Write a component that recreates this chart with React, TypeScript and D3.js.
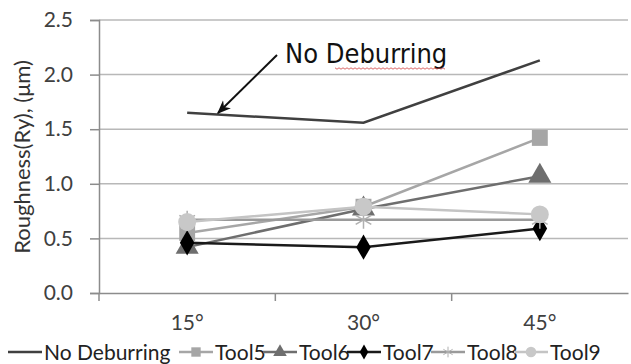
import React, { useRef, useEffect } from 'react';
import * as d3 from 'd3';

const categories = ['15°', '30°', '45°'];
const yTicks = [0, 0.5, 1.0, 1.5, 2.0, 2.5];

const noDeburring = [1.65, 1.56, 2.13];
const tool5 = [0.55, 0.79, 1.42];
const tool6 = [0.42, 0.77, 1.07];
const tool7 = [0.46, 0.42, 0.59];
const tool8 = [0.67, 0.67, 0.67];
const tool9 = [0.65, 0.79, 0.72];

const seriesNames = ['No Deburring', 'Tool5', 'Tool6', 'Tool7', 'Tool8', 'Tool9'];

const App = () => {
  const ref = useRef<SVGSVGElement>(null);

  useEffect(() => {
    const svg = d3.select(ref.current);
    svg.selectAll('*').remove();

    const width = 631;
    const height = 364;
    const margin = { top: 20, right: 3, bottom: 71, left: 99 };
    const font = 'Lato, "Open Sans", sans-serif';

    const x = d3.scaleBand<string>()
      .domain(categories)
      .range([margin.left, width - margin.right]);
    const cx = (c: string) => (x(c) as number) + x.bandwidth() / 2;

    const y = d3.scaleLinear()
      .domain([0, 2.5])
      .range([height - margin.bottom, margin.top]);

    // gridlines
    svg.append('g')
      .selectAll('line')
      .data(yTicks.slice(1))
      .join('line')
      .attr('x1', margin.left)
      .attr('x2', width - margin.right)
      .attr('y1', d => y(d))
      .attr('y2', d => y(d))
      .attr('stroke', '#b8b8b8')
      .attr('stroke-width', 1.5);

    // y axis
    const yAxis = svg.append('g')
      .attr('transform', `translate(${margin.left},0)`)
      .call(d3.axisLeft(y).tickValues(yTicks).tickFormat(d3.format('.1f')).tickSize(9).tickPadding(17));
    yAxis.select('.domain').attr('stroke', '#8c8c8c').attr('stroke-width', 1.5);
    yAxis.selectAll('.tick line').attr('stroke', '#8c8c8c').attr('stroke-width', 1.5);
    yAxis.selectAll('.tick text')
      .attr('fill', '#404040')
      .style('font-family', font)
      .style('font-size', '21px');

    // x axis
    const xAxis = svg.append('g')
      .attr('transform', `translate(0,${height - margin.bottom})`)
      .call(d3.axisBottom(x).tickSize(0).tickPadding(22));
    xAxis.select('.domain').attr('stroke', '#8c8c8c').attr('stroke-width', 1.5);
    xAxis.selectAll('.tick text')
      .attr('fill', '#404040')
      .style('font-family', font)
      .style('font-size', '21px');
    // band boundary ticks
    svg.append('g')
      .selectAll('line')
      .data(categories)
      .join('line')
      .attr('x1', d => x(d) as number)
      .attr('x2', d => x(d) as number)
      .attr('y1', height - margin.bottom)
      .attr('y2', height - margin.bottom + 8)
      .attr('stroke', '#8c8c8c')
      .attr('stroke-width', 1.5);

    // y label
    svg.append('text')
      .attr('transform', 'rotate(-90)')
      .attr('x', -157)
      .attr('y', 30)
      .attr('text-anchor', 'middle')
      .attr('fill', '#333')
      .style('font-family', font)
      .style('font-size', '22px')
      .text('Roughness(Ry), (μm)');

    const series = [
      { name: seriesNames[0], values: noDeburring, color: '#404040', marker: 'none', mcolor: '#404040', width: 2.5 },
      { name: seriesNames[1], values: tool5, color: '#a6a6a6', marker: 'square', mcolor: '#a6a6a6', width: 2.5 },
      { name: seriesNames[2], values: tool6, color: '#6e6e6e', marker: 'triangle', mcolor: '#6e6e6e', width: 2.5 },
      { name: seriesNames[3], values: tool7, color: '#1a1a1a', marker: 'diamond', mcolor: '#000000', width: 2.5 },
      { name: seriesNames[4], values: tool8, color: '#9a9a9a', marker: 'star', mcolor: '#b0b0b0', width: 2.5 },
      { name: seriesNames[5], values: tool9, color: '#c4c4c4', marker: 'circle', mcolor: '#c8c8c8', width: 2.5 },
    ];

    const symbolFor = (m: string, size: number) => {
      if (m === 'square') return d3.symbol(d3.symbolSquare, size * 1.1)();
      if (m === 'triangle') return d3.symbol(d3.symbolTriangle, size)();
      if (m === 'diamond') return d3.symbol(d3.symbolDiamond, size * 0.8)();
      if (m === 'circle') return d3.symbol(d3.symbolCircle, size * 1.1)();
      if (m === 'star') return d3.symbol(d3.symbolAsterisk, size)();
      return null;
    };

    const line = d3.line<number>()
      .x((_, i) => cx(categories[i]))
      .y(d => y(d));

    series.forEach(s => {
      svg.append('path')
        .datum(s.values)
        .attr('d', line)
        .attr('fill', 'none')
        .attr('stroke', s.color)
        .attr('stroke-width', s.width);
    });

    series.forEach(s => {
      if (s.marker === 'none') return;
      const p = symbolFor(s.marker, 230);
      svg.append('g')
        .selectAll('path')
        .data(s.values)
        .join('path')
        .attr('transform', (d, i) => `translate(${cx(categories[i])},${y(d)})`)
        .attr('d', p)
        .attr('fill', s.marker === 'star' ? 'none' : s.mcolor)
        .attr('stroke', s.mcolor)
        .attr('stroke-width', s.marker === 'star' ? 1.5 : 0);
    });

    // annotation
    svg.append('defs').append('marker')
      .attr('id', 'arrow')
      .attr('viewBox', '0 0 10 10')
      .attr('refX', 9)
      .attr('refY', 5)
      .attr('markerWidth', 7)
      .attr('markerHeight', 7)
      .attr('orient', 'auto')
      .append('path')
      .attr('d', 'M0,1 L10,5 L0,9 L3,5 Z')
      .attr('fill', '#111');
    svg.append('line')
      .attr('x1', 277)
      .attr('y1', 55)
      .attr('x2', 218)
      .attr('y2', 113)
      .attr('stroke', '#111')
      .attr('stroke-width', 2)
      .attr('marker-end', 'url(#arrow)');
    svg.append('text')
      .attr('x', 285)
      .attr('y', 63)
      .attr('fill', '#111')
      .style('font-family', '"Liberation Sans Narrow", "DejaVu Sans Condensed", sans-serif')
      .style('font-size', '27px')
      .text('No  Deburring');
    // spell-check squiggle
    const squiggle = d3.range(0, 112, 2).map((d, i) => [335 + d, 68 + (i % 2 ? 1.2 : -0.2)] as [number, number]);
    svg.append('path')
      .attr('d', d3.line()(squiggle))
      .attr('fill', 'none')
      .attr('stroke', '#d04040')
      .attr('stroke-width', 0.8);

    // legend
    const legendX = [8, 179, 263, 347, 431, 514];
    const ly = 352;
    const legend = svg.append('g');
    series.forEach((s, i) => {
      const g = legend.append('g').attr('transform', `translate(${legendX[i]},${ly})`);
      g.append('line')
        .attr('x1', 0)
        .attr('x2', 34)
        .attr('y1', 0)
        .attr('y2', 0)
        .attr('stroke', s.color)
        .attr('stroke-width', 2.5);
      if (s.marker !== 'none') {
        g.append('path')
          .attr('transform', 'translate(17,0)')
          .attr('d', symbolFor(s.marker, 80))
          .attr('fill', s.marker === 'star' ? 'none' : s.mcolor)
          .attr('stroke', s.mcolor)
          .attr('stroke-width', s.marker === 'star' ? 1 : 0);
      }
      g.append('text')
        .attr('x', 36)
        .attr('y', 8)
        .attr('fill', '#222')
        .style('font-family', font)
        .style('font-size', '21px')
        .text(s.name);
    });
  }, []);

  return <svg ref={ref} width={631} height={364} style={{ position: 'absolute', left: 0, top: 0 }}></svg>;
};

export default App;
